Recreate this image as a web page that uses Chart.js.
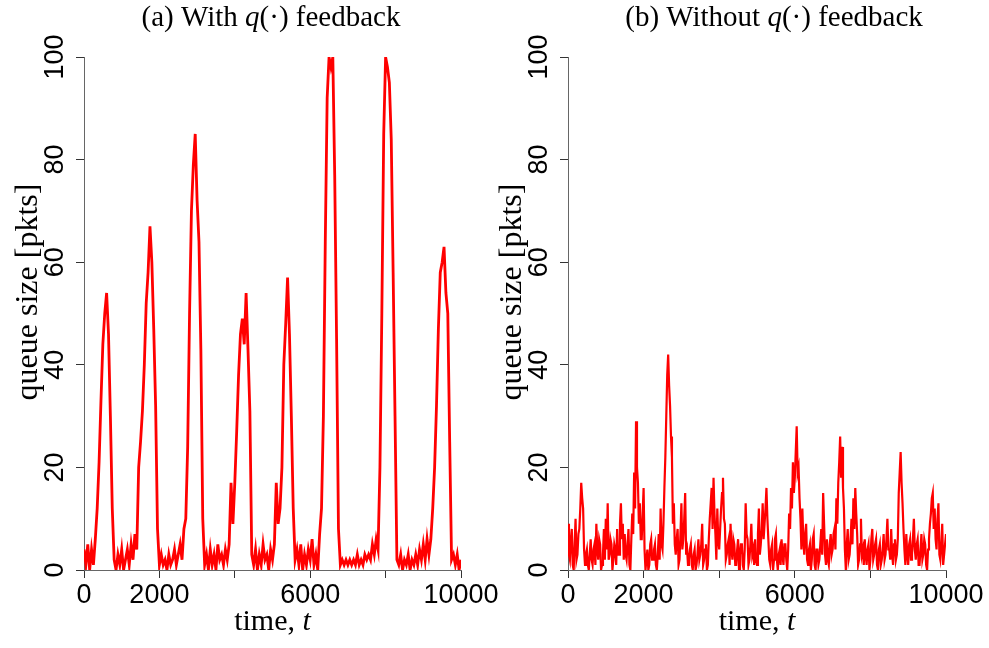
<!DOCTYPE html>
<html>
<head>
<meta charset="utf-8">
<script src="https://cdn.jsdelivr.net/npm/chart.js@4.4.0/dist/chart.umd.min.js"></script>
<style>
  html, body { margin: 0; padding: 0; background: #fff; }
  #wrap { position: relative; width: 989px; height: 648px; overflow: hidden; }
  canvas { position: absolute; top: 0; }
  #chart-a { left: 0; }
  #chart-b { left: 494px; }
</style>
</head>
<body>
<div id="wrap">
  <canvas id="chart-a" width="540" height="648" style="width:540px;height:648px"></canvas>
  <canvas id="chart-b" width="495" height="648" style="width:495px;height:648px"></canvas>
</div>
<script>
// sampling interval of each trace (time units between samples)
const STEP_A = 50;
const STEP_B = 25;

// (a) queue size with q(.) feedback
const queueWith = [
  4, 1, 5, 0, 4, 1, 6, 12, 21, 33, 44, 50, 54, 46, 30, 12, 2,
  0, 3, 1, 4, 0, 2, 4, 1, 5, 2, 7, 4,
  20, 25, 31, 40, 52, 58, 67, 60, 47, 32, 8, 1,
  3, 1, 2, 0, 3, 1, 2, 4, 1, 3, 5, 2, 8, 10,
  24, 50, 70, 79, 85, 72, 64, 43, 10, 1,
  3, 0, 4, 1, 3, 0, 5, 2, 3, 1, 4, 2, 5, 17,
  9, 17, 27, 38, 46, 49, 44, 54, 43, 31, 3,
  1, 4, 0, 3, 1, 5, 2, 3, 0, 4, 2, 5,
  17, 9, 12, 20, 40, 48, 57, 46, 30, 12, 2,
  4, 1, 5, 0, 3, 1, 4, 2, 6, 1, 3, 0, 7, 12,
  30, 64, 92, 100, 98, 100, 77, 45, 8, 1,
  2, 1, 2, 1, 2, 1, 2, 1, 3, 1, 2, 1, 3, 2, 3, 2, 5, 3, 6, 4,
  20, 50, 85, 100, 98, 95, 84, 58, 30, 2,
  1, 3, 0, 2, 1, 3, 0, 2, 1, 3, 1, 4, 2, 5, 2, 6, 3, 6, 12, 20,
  32, 47, 58, 60, 63, 54, 50, 25, 2, 3, 1, 3, 0, 2
];

// (b) queue size without q(.) feedback
const queueWithout = [
  9, 3, 2, 6, 8, 1, 0, 5, 10, 2, 3, 7, 8, 12, 17, 14, 12, 4, 1, 3,
  4, 1, 0, 3, 6, 2, 1, 4, 5, 1, 9, 4, 2, 6, 5, 0, 1, 3, 8, 2,
  10, 4, 13, 2, 3, 6, 5, 0, 2, 5, 4, 1, 8, 3, 3, 9, 13, 6, 9, 2,
  7, 3, 2, 5, 8, 1, 0, 6, 11, 7, 19, 12, 29, 20, 17, 9, 13, 6, 6, 11,
  16, 4, 0, 2, 4, 0, 1, 5, 6, 2, 2, 4, 5, 1, 0, 3, 7, 2, 12, 5,
  4, 9, 16, 22, 30, 38, 42, 36, 32, 26, 22, 9, 13, 5, 3, 6, 8, 1, 2, 7,
  13, 4, 6, 10, 15, 3, 4, 1, 2, 4, 5, 1, 0, 3, 4, 0, 1, 3, 6, 2,
  3, 5, 9, 1, 2, 4, 5, 0, 1, 6, 10, 13, 16, 8, 18, 11, 7, 2, 12, 6,
  4, 8, 12, 15, 18, 10, 9, 2, 3, 5, 6, 1, 9, 4, 2, 6, 5, 1, 1, 4,
  6, 0, 3, 5, 5, 1, 0, 4, 13, 7, 6, 1, 2, 5, 9, 3, 4, 1, 6, 2,
  1, 7, 12, 3, 5, 8, 13, 6, 9, 12, 16, 10, 6, 2, 1, 4, 5, 0, 2, 6,
  7, 2, 0, 3, 4, 1, 6, 3, 1, 5, 5, 2, 0, 4, 11, 8, 16, 12, 21, 15,
  18, 23, 28, 19, 20, 14, 10, 4, 12, 6, 3, 7, 9, 2, 1, 4, 5, 0, 2, 6,
  7, 1, 0, 4, 4, 1, 2, 5, 8, 3, 15, 9, 3, 1, 6, 2, 1, 5, 7, 3,
  4, 7, 8, 4, 14, 9, 17, 21, 26, 18, 24, 16, 12, 4, 0, 5, 8, 2, 3, 6,
  10, 5, 14, 8, 16, 11, 7, 1, 2, 5, 10, 3, 4, 1, 6, 3, 1, 4, 5, 0,
  2, 6, 8, 2, 3, 5, 6, 1, 0, 4, 5, 1, 2, 4, 7, 2, 3, 6, 10, 4,
  4, 2, 8, 3, 1, 5, 6, 2, 3, 6, 15, 19, 23, 17, 13, 8, 4, 1, 7, 3,
  1, 5, 6, 2, 3, 6, 10, 4, 2, 5, 6, 1, 1, 4, 7, 2, 3, 6, 5, 1,
  0, 4, 6, 9, 11, 14, 15, 8, 12, 6, 4, 10, 13, 3, 2, 5, 9, 1, 3, 5,
  7
];

const xTicks = [0, 2000, 4000, 6000, 8000, 10000];
const xTickLabels = ['0', '2000', '', '6000', '', '10000'];
const yTicks = [0, 20, 40, 60, 80, 100];

const SERIF = '"Liberation Serif", "Times New Roman", serif';
const SANS = '"Liberation Sans", Arial, sans-serif';

// draw a line of text made of differently styled pieces, centred on cx
function drawRich(ctx, parts, cx, y) {
  let total = 0;
  parts.forEach(p => { ctx.font = p.font; total += ctx.measureText(p.text).width; });
  let x = cx - total / 2;
  ctx.textAlign = 'left';
  ctx.textBaseline = 'alphabetic';
  parts.forEach(p => {
    ctx.font = p.font;
    ctx.fillText(p.text, x, y);
    x += ctx.measureText(p.text).width;
  });
}

const textPlugin = {
  id: 'panelText',
  afterDraw(chart, args, o) {
    const ctx = chart.ctx;
    const area = chart.chartArea;
    const ys = chart.scales.y;
    ctx.save();
    ctx.fillStyle = '#000';

    // rotated y tick labels
    ctx.font = '27px ' + SANS;
    ctx.textAlign = 'center';
    ctx.textBaseline = 'alphabetic';
    yTicks.forEach(v => {
      ctx.save();
      ctx.translate(area.left - 21, ys.getPixelForValue(v));
      ctx.rotate(-Math.PI / 2);
      ctx.fillText(String(v), 0, 0);
      ctx.restore();
    });

    const norm = '29px ' + SERIF;
    const ital = 'italic 29px ' + SERIF;
    drawRich(ctx, [
      { text: o.title, font: norm },
      { text: 'q', font: ital },
      { text: '(\u00b7) feedback', font: norm }
    ], o.titleX, 26);

    const lab = '30px ' + SERIF;
    const labI = 'italic 30px ' + SERIF;
    drawRich(ctx, [
      { text: 'time, ', font: lab },
      { text: 't', font: labI }
    ], (area.left + area.right) / 2, 630);

    ctx.save();
    ctx.translate(area.left - 47, o.ylabY);
    ctx.rotate(-Math.PI / 2);
    drawRich(ctx, [{ text: 'queue size [pkts]', font: '32px ' + SERIF }], 0, 0);
    ctx.restore();

    ctx.restore();
  }
};

function makePanel(id, values, step, cfg) {
  const points = values.map((q, i) => ({ x: i * step, y: q }));
  return new Chart(document.getElementById(id), {
    type: 'line',
    data: {
      datasets: [{
        data: points,
        borderColor: '#ff0000',
        borderWidth: cfg.lineWidth,
        pointRadius: 0,
        tension: 0,
        fill: false
      }]
    },
    options: {
      responsive: false,
      animation: false,
      events: [],
      layout: { padding: { left: 0, right: cfg.padRight, top: 57, bottom: 0 } },
      plugins: {
        legend: { display: false },
        tooltip: { enabled: false },
        panelText: cfg
      },
      scales: {
        x: {
          type: 'linear',
          min: 0,
          max: 10000,
          afterBuildTicks: s => { s.ticks = xTicks.map(v => ({ value: v })); },
          afterFit: s => { s.height = 78; },
          ticks: {
            autoSkip: false,
            maxRotation: 0,
            padding: 1,
            color: '#000',
            font: { family: SANS, size: 27 },
            callback: (v, i) => xTickLabels[i]
          },
          grid: { drawOnChartArea: false, tickLength: 8, color: '#333', lineWidth: 1 },
          border: { color: '#666', width: 1 }
        },
        y: {
          min: 0,
          max: 100,
          afterBuildTicks: s => { s.ticks = yTicks.map(v => ({ value: v })); },
          afterFit: s => { s.width = cfg.axisLeft; },
          ticks: { display: false },
          grid: { drawOnChartArea: false, tickLength: 8, color: '#333', lineWidth: 1 },
          border: { color: '#666', width: 1 }
        }
      }
    },
    plugins: [textPlugin]
  });
}

makePanel('chart-a', queueWith, STEP_A, { axisLeft: 84, padRight: 540 - 461, lineWidth: 2.8, title: '(a) With ', titleX: 271, ylabY: 292 });
makePanel('chart-b', queueWithout, STEP_B, { axisLeft: 74, padRight: 495 - 452, lineWidth: 2.2, title: '(b) Without ', titleX: 280, ylabY: 292 });
</script>
</body>
</html>
